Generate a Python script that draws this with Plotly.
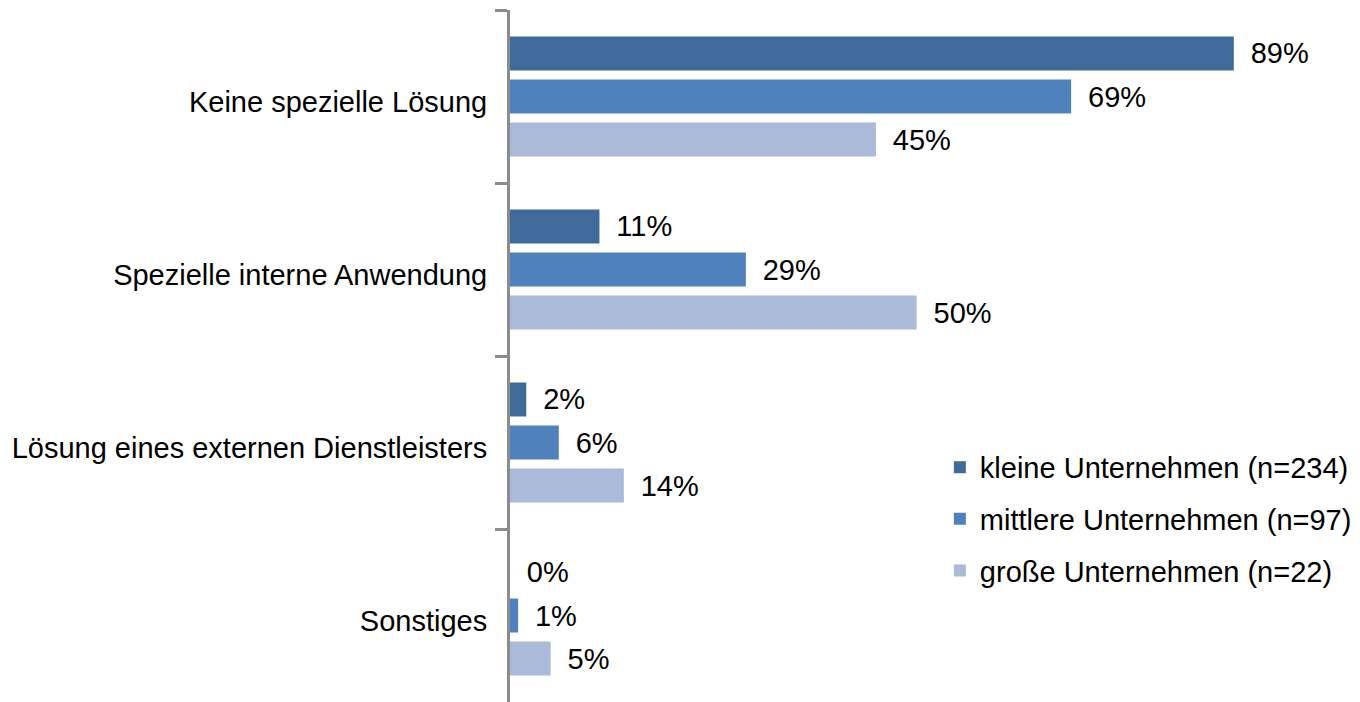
import plotly.graph_objects as go

categories = ["Keine spezielle Lösung", "Spezielle interne Anwendung",
              "Lösung eines externen Dienstleisters", "Sonstiges"]
series_names = ["kleine Unternehmen (n=234)", "mittlere Unternehmen (n=97)",
                "große Unternehmen (n=22)"]
kleine = [89, 11, 2, 0]
mittlere = [69, 29, 6, 1]
grosse = [45, 50, 14, 5]
colors = ["#406A9A", "#4F81BD", "#AABAD8"]

FONT = "Liberation Sans, Arial, sans-serif"
FS = 29

fig = go.Figure()
for i, (name, vals, col) in enumerate(zip(series_names, [kleine, mittlere, grosse], colors)):
    fig.add_trace(go.Bar(
        y=categories, x=vals, name=name, orientation="h",
        marker=dict(color=col, line=dict(width=0)),
        text=[f"\u00a0\u2009{v}%" for v in vals],
        textposition="outside", cliponaxis=False,
        textfont=dict(size=FS, color="#000000", family=FONT),
        legendgroup=f"g{i}",
    ))

fig.update_layout(
    width=1360, height=702,
    margin=dict(l=502, r=0, t=2, b=8, autoexpand=False),
    paper_bgcolor="white", plot_bgcolor="white",
    barmode="group", bargap=0.254, bargroupgap=0.21,
    font=dict(family=FONT, size=FS, color="#000000"),
    xaxis=dict(range=[0, 105.5], visible=False),
    yaxis=dict(autorange="reversed", showline=True, linecolor="#8C8C8C", linewidth=3,
               ticks="outside", tickson="boundaries", ticklen=12, tickwidth=3,
               tickcolor="#8C8C8C", showgrid=False, zeroline=False, automargin=False,
               ticklabelstandoff=14, ticklabelshift=-5,
               tickfont=dict(size=FS, family=FONT, color="#000000")),
    legend=dict(x=0.501, y=0.376, xanchor="left", yanchor="top",
                traceorder="grouped", tracegroupgap=11,
                font=dict(size=FS, family=FONT, color="#000000"),
                bgcolor="rgba(0,0,0,0)"),
    showlegend=True,
)

fig.write_html("out.html")
